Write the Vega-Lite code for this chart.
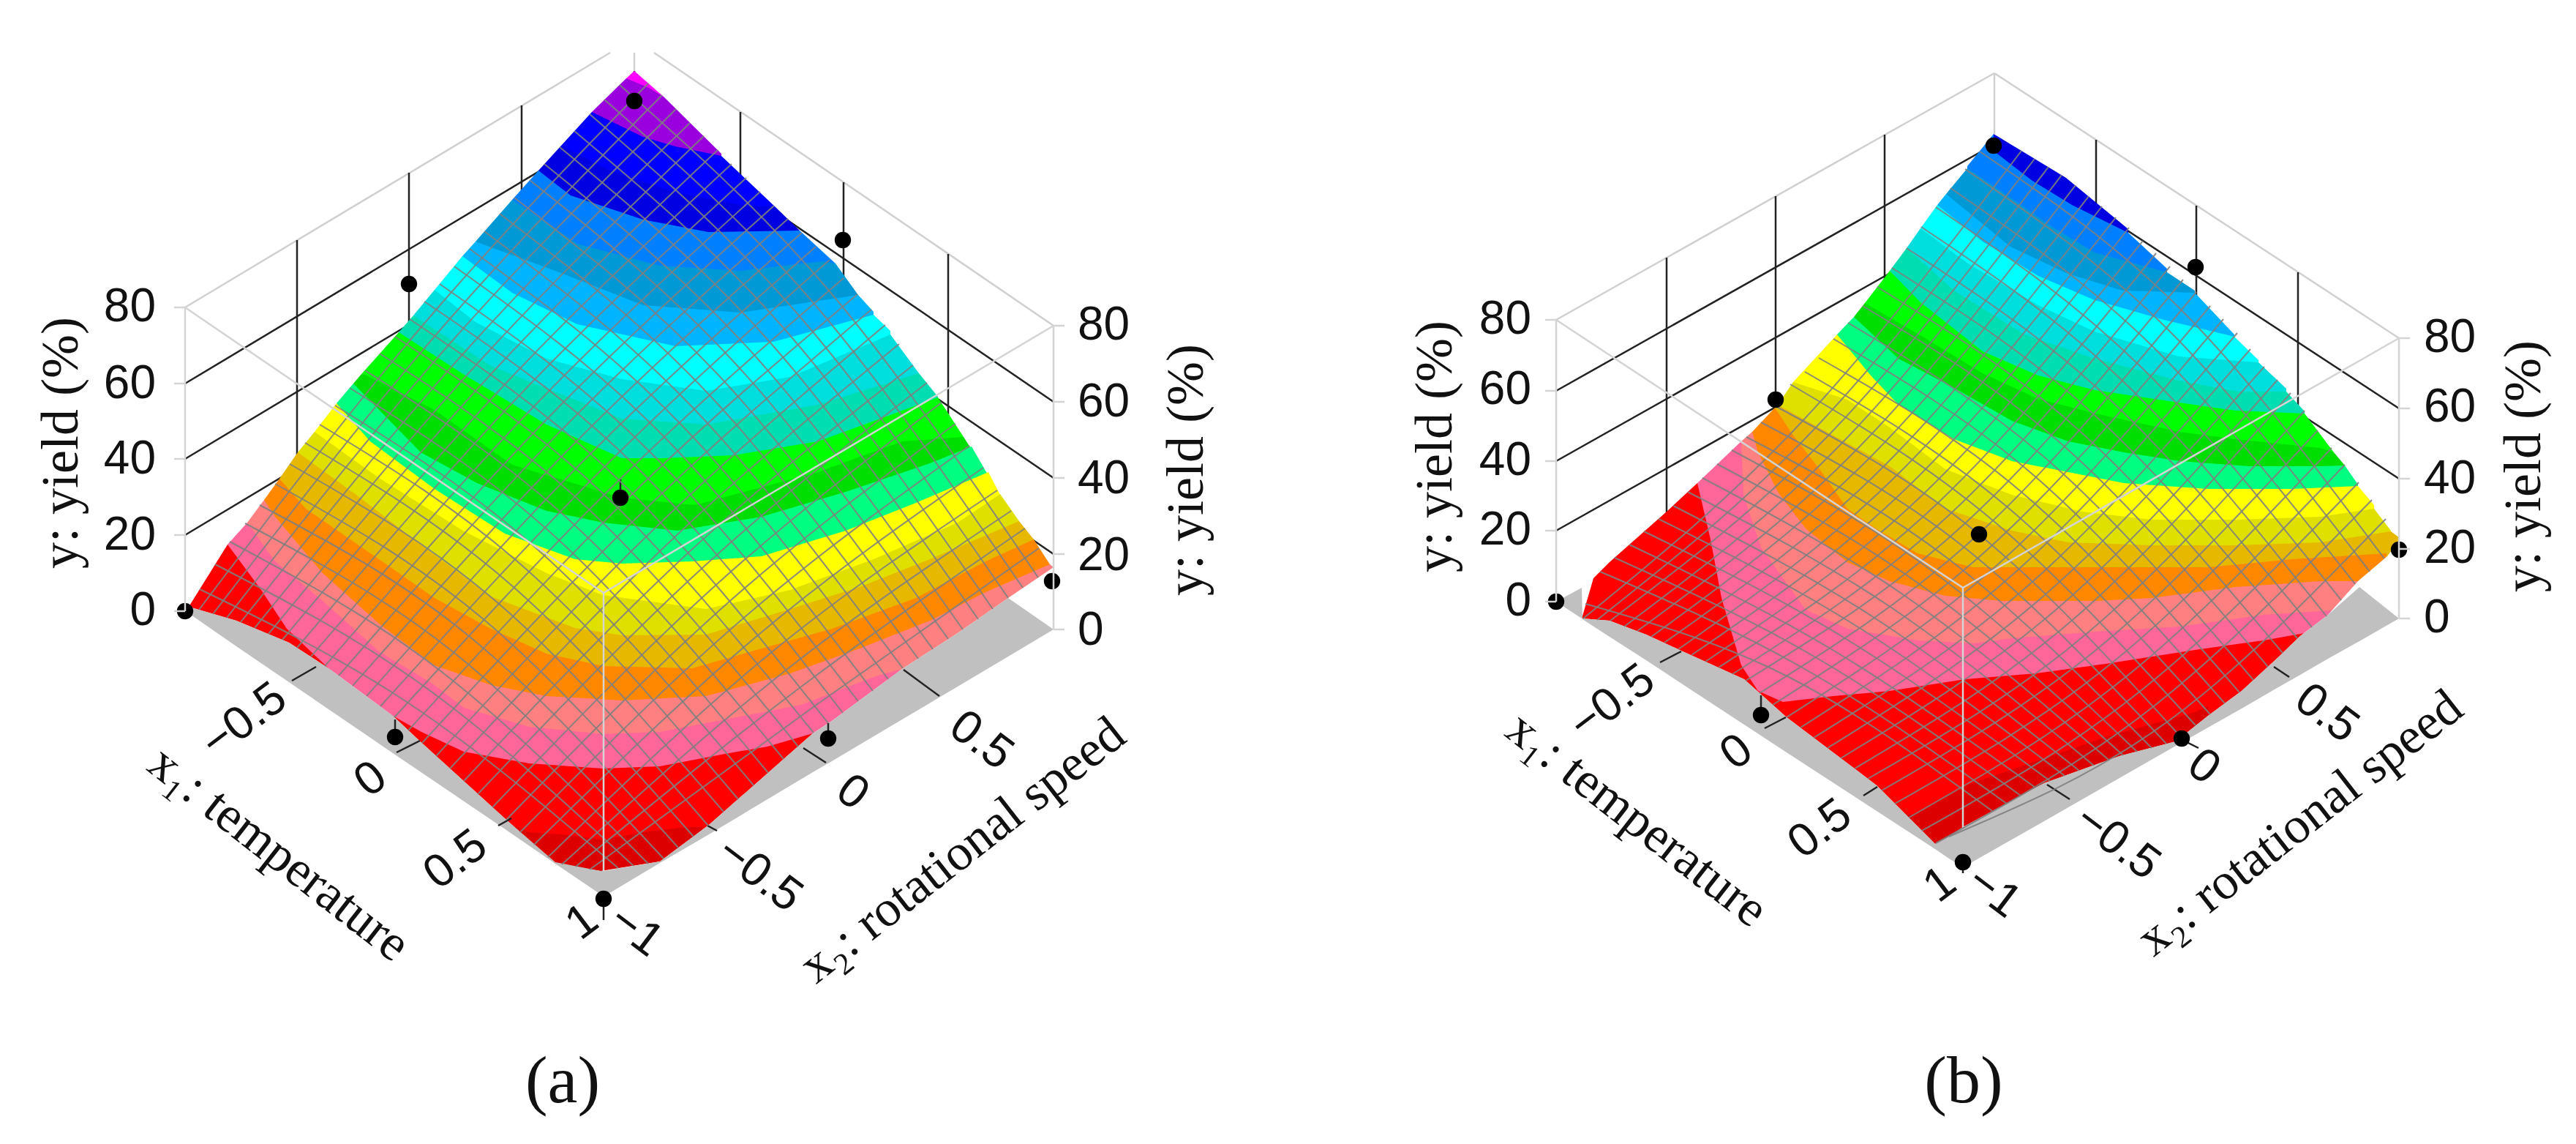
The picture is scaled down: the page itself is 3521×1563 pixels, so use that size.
{"$schema":"https://vega.github.io/schema/vega-lite/v6.json","description":"Two response surfaces of yield over temperature and rotational speed.","width":3521,"height":1563,"autosize":{"type":"fit","contains":"padding"},"padding":0,"background":"white","config":{"view":{"stroke":null}},
"datasets":{
"grid":[{"x":253,"y":731,"x2":867,"y2":363},{"x":253,"y":627,"x2":867,"y2":259},{"x":253,"y":524,"x2":867,"y2":156},{"x":1440,"y":757,"x2":867,"y2":366},{"x":1440,"y":653,"x2":867,"y2":262},{"x":1440,"y":549,"x2":867,"y2":158},{"x":406,"y":328,"x2":406,"y2":743},{"x":559,"y":236,"x2":559,"y2":650},{"x":713,"y":144,"x2":713,"y2":564},{"x":1012,"y":153,"x2":1012,"y2":568},{"x":1153,"y":249,"x2":1153,"y2":664},{"x":1296,"y":347,"x2":1296,"y2":762},{"x":867,"y":97,"x2":867,"y2":138},
{"x":2127,"y":725,"x2":2726,"y2":388},{"x":2127,"y":630,"x2":2726,"y2":293},{"x":2127,"y":534,"x2":2726,"y2":197},{"x":3279,"y":750,"x2":2726,"y2":388},{"x":3279,"y":654,"x2":2726,"y2":292},{"x":3279,"y":558,"x2":2726,"y2":196},{"x":2278,"y":352,"x2":2278,"y2":767},{"x":2427,"y":268,"x2":2427,"y2":653},{"x":2576,"y":184,"x2":2576,"y2":569},{"x":2865,"y":191,"x2":2865,"y2":576},{"x":3002,"y":281,"x2":3002,"y2":666},{"x":3141,"y":372,"x2":3141,"y2":757}],
"backbox":[{"x":253,"y":420,"x2":834,"y2":72},{"x":894,"y":72,"x2":1440,"y2":445},{"x":867,"y":72,"x2":867,"y2":97},{"x":2127,"y":437,"x2":2726,"y2":100},{"x":2726,"y":100,"x2":3279,"y2":462},{"x":2726,"y":100,"x2":2726,"y2":183}],
"bands":[
{"p":"a","l":1,"x":856,"y":107},{"p":"a","l":1,"x":867,"y":97},{"p":"a","l":1,"x":908,"y":133},
{"p":"a","l":2,"x":809,"y":153},{"p":"a","l":2,"x":856,"y":107},{"p":"a","l":2,"x":887,"y":120},{"p":"a","l":2,"x":908,"y":133},{"p":"a","l":2,"x":986,"y":210},
{"p":"a","l":3,"x":767,"y":199},{"p":"a","l":3,"x":809,"y":153},{"p":"a","l":3,"x":879,"y":187},{"p":"a","l":3,"x":923,"y":200},{"p":"a","l":3,"x":986,"y":213},{"p":"a","l":3,"x":1060,"y":283},
{"p":"a","l":4,"x":736,"y":233},{"p":"a","l":4,"x":767,"y":199},{"p":"a","l":4,"x":834,"y":233},{"p":"a","l":4,"x":923,"y":263},{"p":"a","l":4,"x":1012,"y":280},{"p":"a","l":4,"x":1060,"y":283},{"p":"a","l":4,"x":1093,"y":315},
{"p":"a","l":5,"x":700,"y":273},{"p":"a","l":5,"x":736,"y":233},{"p":"a","l":5,"x":780,"y":267},{"p":"a","l":5,"x":879,"y":300},{"p":"a","l":5,"x":968,"y":317},{"p":"a","l":5,"x":1093,"y":315},{"p":"a","l":5,"x":1142,"y":360},
{"p":"a","l":6,"x":650,"y":330},{"p":"a","l":6,"x":700,"y":273},{"p":"a","l":6,"x":789,"y":333},{"p":"a","l":6,"x":901,"y":363},{"p":"a","l":6,"x":1012,"y":370},{"p":"a","l":6,"x":1124,"y":357},{"p":"a","l":6,"x":1142,"y":360},{"p":"a","l":6,"x":1173,"y":403},
{"p":"a","l":7,"x":632,"y":350},{"p":"a","l":7,"x":650,"y":330},{"p":"a","l":7,"x":767,"y":373},{"p":"a","l":7,"x":879,"y":417},{"p":"a","l":7,"x":1012,"y":427},{"p":"a","l":7,"x":1146,"y":407},{"p":"a","l":7,"x":1173,"y":403},{"p":"a","l":7,"x":1194,"y":426},
{"p":"a","l":8,"x":594,"y":396},{"p":"a","l":8,"x":632,"y":350},{"p":"a","l":8,"x":700,"y":400},{"p":"a","l":8,"x":789,"y":443},{"p":"a","l":8,"x":923,"y":473},{"p":"a","l":8,"x":1057,"y":467},{"p":"a","l":8,"x":1194,"y":430},{"p":"a","l":8,"x":1217,"y":452},
{"p":"a","l":9,"x":565,"y":431},{"p":"a","l":9,"x":594,"y":396},{"p":"a","l":9,"x":650,"y":440},{"p":"a","l":9,"x":747,"y":490},{"p":"a","l":9,"x":850,"y":518},{"p":"a","l":9,"x":965,"y":534},{"p":"a","l":9,"x":1080,"y":515},{"p":"a","l":9,"x":1217,"y":457},{"p":"a","l":9,"x":1256,"y":510},
{"p":"a","l":10,"x":545,"y":454},{"p":"a","l":10,"x":565,"y":431},{"p":"a","l":10,"x":671,"y":500},{"p":"a","l":10,"x":850,"y":572},{"p":"a","l":10,"x":965,"y":580},{"p":"a","l":10,"x":1118,"y":553},{"p":"a","l":10,"x":1256,"y":510},{"p":"a","l":10,"x":1282,"y":542},
{"p":"a","l":11,"x":495,"y":510},{"p":"a","l":11,"x":545,"y":454},{"p":"a","l":11,"x":633,"y":511},{"p":"a","l":11,"x":747,"y":580},{"p":"a","l":11,"x":850,"y":626},{"p":"a","l":11,"x":907,"y":626},{"p":"a","l":11,"x":1003,"y":622},{"p":"a","l":11,"x":1118,"y":603},{"p":"a","l":11,"x":1214,"y":568},{"p":"a","l":11,"x":1282,"y":543},{"p":"a","l":11,"x":1317,"y":597},
{"p":"a","l":12,"x":483,"y":524},{"p":"a","l":12,"x":495,"y":510},{"p":"a","l":12,"x":594,"y":560},{"p":"a","l":12,"x":700,"y":635},{"p":"a","l":12,"x":850,"y":680},{"p":"a","l":12,"x":950,"y":690},{"p":"a","l":12,"x":1118,"y":645},{"p":"a","l":12,"x":1233,"y":603},{"p":"a","l":12,"x":1317,"y":597},{"p":"a","l":12,"x":1328,"y":614},
{"p":"a","l":13,"x":460,"y":551},{"p":"a","l":13,"x":483,"y":524},{"p":"a","l":13,"x":575,"y":618},{"p":"a","l":13,"x":652,"y":660},{"p":"a","l":13,"x":747,"y":698},{"p":"a","l":13,"x":824,"y":714},{"p":"a","l":13,"x":926,"y":725},{"p":"a","l":13,"x":1041,"y":706},{"p":"a","l":13,"x":1156,"y":672},{"p":"a","l":13,"x":1271,"y":633},{"p":"a","l":13,"x":1328,"y":610},{"p":"a","l":13,"x":1351,"y":650},
{"p":"a","l":14,"x":430,"y":590},{"p":"a","l":14,"x":460,"y":551},{"p":"a","l":14,"x":506,"y":603},{"p":"a","l":14,"x":594,"y":668},{"p":"a","l":14,"x":690,"y":729},{"p":"a","l":14,"x":786,"y":764},{"p":"a","l":14,"x":850,"y":770},{"p":"a","l":14,"x":946,"y":767},{"p":"a","l":14,"x":1041,"y":760},{"p":"a","l":14,"x":1156,"y":725},{"p":"a","l":14,"x":1252,"y":687},{"p":"a","l":14,"x":1351,"y":645},{"p":"a","l":14,"x":1367,"y":676},
{"p":"a","l":15,"x":407,"y":618},{"p":"a","l":15,"x":430,"y":590},{"p":"a","l":15,"x":518,"y":653},{"p":"a","l":15,"x":633,"y":725},{"p":"a","l":15,"x":747,"y":783},{"p":"a","l":15,"x":824,"y":813},{"p":"a","l":15,"x":965,"y":832},{"p":"a","l":15,"x":1080,"y":806},{"p":"a","l":15,"x":1194,"y":764},{"p":"a","l":15,"x":1309,"y":714},{"p":"a","l":15,"x":1367,"y":675},{"p":"a","l":15,"x":1393,"y":712},
{"p":"a","l":16,"x":382,"y":654},{"p":"a","l":16,"x":407,"y":618},{"p":"a","l":16,"x":487,"y":676},{"p":"a","l":16,"x":575,"y":744},{"p":"a","l":16,"x":671,"y":815},{"p":"a","l":16,"x":786,"y":858},{"p":"a","l":16,"x":850,"y":868},{"p":"a","l":16,"x":965,"y":867},{"p":"a","l":16,"x":1080,"y":832},{"p":"a","l":16,"x":1175,"y":802},{"p":"a","l":16,"x":1271,"y":764},{"p":"a","l":16,"x":1393,"y":712},{"p":"a","l":16,"x":1413,"y":737},
{"p":"a","l":17,"x":361,"y":683},{"p":"a","l":17,"x":382,"y":654},{"p":"a","l":17,"x":418,"y":695},{"p":"a","l":17,"x":518,"y":764},{"p":"a","l":17,"x":594,"y":817},{"p":"a","l":17,"x":671,"y":859},{"p":"a","l":17,"x":747,"y":893},{"p":"a","l":17,"x":825,"y":910},{"p":"a","l":17,"x":946,"y":913},{"p":"a","l":17,"x":1041,"y":886},{"p":"a","l":17,"x":1137,"y":859},{"p":"a","l":17,"x":1252,"y":817},{"p":"a","l":17,"x":1347,"y":767},{"p":"a","l":17,"x":1413,"y":737},{"p":"a","l":17,"x":1435,"y":771},
{"p":"a","l":18,"x":338,"y":714},{"p":"a","l":18,"x":361,"y":683},{"p":"a","l":18,"x":376,"y":706},{"p":"a","l":18,"x":441,"y":783},{"p":"a","l":18,"x":518,"y":852},{"p":"a","l":18,"x":594,"y":909},{"p":"a","l":18,"x":671,"y":936},{"p":"a","l":18,"x":747,"y":951},{"p":"a","l":18,"x":850,"y":957},{"p":"a","l":18,"x":965,"y":951},{"p":"a","l":18,"x":1080,"y":920},{"p":"a","l":18,"x":1175,"y":886},{"p":"a","l":18,"x":1271,"y":848},{"p":"a","l":18,"x":1347,"y":809},{"p":"a","l":18,"x":1435,"y":771},{"p":"a","l":18,"x":1440,"y":775},
{"p":"a","l":19,"x":311,"y":744},{"p":"a","l":19,"x":338,"y":714},{"p":"a","l":19,"x":376,"y":767},{"p":"a","l":19,"x":441,"y":821},{"p":"a","l":19,"x":518,"y":890},{"p":"a","l":19,"x":594,"y":936},{"p":"a","l":19,"x":634,"y":967},{"p":"a","l":19,"x":723,"y":993},{"p":"a","l":19,"x":824,"y":1003},{"p":"a","l":19,"x":902,"y":1000},{"p":"a","l":19,"x":991,"y":983},{"p":"a","l":19,"x":1095,"y":963},{"p":"a","l":19,"x":1194,"y":925},{"p":"a","l":19,"x":1229,"y":915},
{"p":"a","l":20,"x":253,"y":835},{"p":"a","l":20,"x":258,"y":829},{"p":"a","l":20,"x":311,"y":744},{"p":"a","l":20,"x":323,"y":760},{"p":"a","l":20,"x":357,"y":806},{"p":"a","l":20,"x":392,"y":859},{"p":"a","l":20,"x":449,"y":913},{"p":"a","l":20,"x":483,"y":940},{"p":"a","l":20,"x":537,"y":978},{"p":"a","l":20,"x":576,"y":1000},{"p":"a","l":20,"x":634,"y":1027},{"p":"a","l":20,"x":723,"y":1043},{"p":"a","l":20,"x":824,"y":1050},{"p":"a","l":20,"x":902,"y":1047},{"p":"a","l":20,"x":991,"y":1030},{"p":"a","l":20,"x":1049,"y":1020},{"p":"a","l":20,"x":1111,"y":1002},
{"p":"a","l":21,"x":700,"y":1127},{"p":"a","l":21,"x":723,"y":1137},{"p":"a","l":21,"x":768,"y":1140},{"p":"a","l":21,"x":824,"y":1147},{"p":"a","l":21,"x":879,"y":1137},{"p":"a","l":21,"x":937,"y":1130},{"p":"a","l":21,"x":960,"y":1130},
{"p":"b","l":4,"x":2725,"y":183},{"p":"b","l":4,"x":2824,"y":243},{"p":"b","l":4,"x":2909,"y":313},
{"p":"b","l":5,"x":2689,"y":227},{"p":"b","l":5,"x":2725,"y":183},{"p":"b","l":5,"x":2726,"y":207},{"p":"b","l":5,"x":2778,"y":247},{"p":"b","l":5,"x":2832,"y":280},{"p":"b","l":5,"x":2909,"y":318},{"p":"b","l":5,"x":2962,"y":367},
{"p":"b","l":6,"x":2660,"y":265},{"p":"b","l":6,"x":2689,"y":230},{"p":"b","l":6,"x":2748,"y":270},{"p":"b","l":6,"x":2805,"y":310},{"p":"b","l":6,"x":2863,"y":345},{"p":"b","l":6,"x":2962,"y":372},{"p":"b","l":6,"x":3000,"y":397},
{"p":"b","l":7,"x":2648,"y":280},{"p":"b","l":7,"x":2660,"y":265},{"p":"b","l":7,"x":2748,"y":337},{"p":"b","l":7,"x":2824,"y":373},{"p":"b","l":7,"x":2901,"y":397},{"p":"b","l":7,"x":3000,"y":400},{"p":"b","l":7,"x":3054,"y":457},
{"p":"b","l":8,"x":2625,"y":312},{"p":"b","l":8,"x":2648,"y":280},{"p":"b","l":8,"x":2710,"y":330},{"p":"b","l":8,"x":2786,"y":377},{"p":"b","l":8,"x":2863,"y":410},{"p":"b","l":8,"x":2958,"y":437},{"p":"b","l":8,"x":3054,"y":460},{"p":"b","l":8,"x":3087,"y":492},
{"p":"b","l":9,"x":2606,"y":339},{"p":"b","l":9,"x":2625,"y":312},{"p":"b","l":9,"x":2690,"y":360},{"p":"b","l":9,"x":2786,"y":417},{"p":"b","l":9,"x":2863,"y":453},{"p":"b","l":9,"x":2978,"y":487},{"p":"b","l":9,"x":3087,"y":495},{"p":"b","l":9,"x":3125,"y":531},
{"p":"b","l":10,"x":2583,"y":370},{"p":"b","l":10,"x":2606,"y":339},{"p":"b","l":10,"x":2671,"y":397},{"p":"b","l":10,"x":2767,"y":457},{"p":"b","l":10,"x":2863,"y":490},{"p":"b","l":10,"x":2978,"y":520},{"p":"b","l":10,"x":3060,"y":535},{"p":"b","l":10,"x":3125,"y":535},{"p":"b","l":10,"x":3150,"y":562},
{"p":"b","l":11,"x":2549,"y":414},{"p":"b","l":11,"x":2583,"y":370},{"p":"b","l":11,"x":2625,"y":413},{"p":"b","l":11,"x":2710,"y":480},{"p":"b","l":11,"x":2786,"y":513},{"p":"b","l":11,"x":2863,"y":533},{"p":"b","l":11,"x":2958,"y":547},{"p":"b","l":11,"x":3056,"y":561},{"p":"b","l":11,"x":3150,"y":565},{"p":"b","l":11,"x":3190,"y":618},
{"p":"b","l":12,"x":2534,"y":433},{"p":"b","l":12,"x":2549,"y":414},{"p":"b","l":12,"x":2633,"y":463},{"p":"b","l":12,"x":2710,"y":510},{"p":"b","l":12,"x":2786,"y":545},{"p":"b","l":12,"x":2865,"y":565},{"p":"b","l":12,"x":2979,"y":590},{"p":"b","l":12,"x":3056,"y":600},{"p":"b","l":12,"x":3171,"y":612},{"p":"b","l":12,"x":3190,"y":618},{"p":"b","l":12,"x":3205,"y":636},
{"p":"b","l":13,"x":2511,"y":457},{"p":"b","l":13,"x":2534,"y":433},{"p":"b","l":13,"x":2595,"y":490},{"p":"b","l":13,"x":2671,"y":530},{"p":"b","l":13,"x":2750,"y":575},{"p":"b","l":13,"x":2827,"y":603},{"p":"b","l":13,"x":2903,"y":618},{"p":"b","l":13,"x":2980,"y":630},{"p":"b","l":13,"x":3075,"y":637},{"p":"b","l":13,"x":3171,"y":637},{"p":"b","l":13,"x":3205,"y":636},{"p":"b","l":13,"x":3223,"y":662},
{"p":"b","l":14,"x":2451,"y":522},{"p":"b","l":14,"x":2511,"y":457},{"p":"b","l":14,"x":2557,"y":513},{"p":"b","l":14,"x":2595,"y":553},{"p":"b","l":14,"x":2671,"y":600},{"p":"b","l":14,"x":2750,"y":630},{"p":"b","l":14,"x":2827,"y":645},{"p":"b","l":14,"x":2903,"y":660},{"p":"b","l":14,"x":3018,"y":668},{"p":"b","l":14,"x":3133,"y":668},{"p":"b","l":14,"x":3223,"y":664},{"p":"b","l":14,"x":3245,"y":690},
{"p":"b","l":15,"x":2430,"y":553},{"p":"b","l":15,"x":2451,"y":522},{"p":"b","l":15,"x":2525,"y":546},{"p":"b","l":15,"x":2583,"y":584},{"p":"b","l":15,"x":2659,"y":641},{"p":"b","l":15,"x":2750,"y":676},{"p":"b","l":15,"x":2846,"y":699},{"p":"b","l":15,"x":2941,"y":710},{"p":"b","l":15,"x":3056,"y":710},{"p":"b","l":15,"x":3171,"y":706},{"p":"b","l":15,"x":3245,"y":695},{"p":"b","l":15,"x":3268,"y":725},
{"p":"b","l":16,"x":2426,"y":557},{"p":"b","l":16,"x":2430,"y":553},{"p":"b","l":16,"x":2506,"y":595},{"p":"b","l":16,"x":2583,"y":637},{"p":"b","l":16,"x":2659,"y":695},{"p":"b","l":16,"x":2750,"y":725},{"p":"b","l":16,"x":2827,"y":741},{"p":"b","l":16,"x":2941,"y":745},{"p":"b","l":16,"x":3056,"y":745},{"p":"b","l":16,"x":3171,"y":741},{"p":"b","l":16,"x":3268,"y":726},{"p":"b","l":16,"x":3280,"y":735},
{"p":"b","l":17,"x":2395,"y":590},{"p":"b","l":17,"x":2426,"y":557},{"p":"b","l":17,"x":2449,"y":592},{"p":"b","l":17,"x":2487,"y":641},{"p":"b","l":17,"x":2525,"y":695},{"p":"b","l":17,"x":2564,"y":722},{"p":"b","l":17,"x":2621,"y":756},{"p":"b","l":17,"x":2697,"y":775},{"p":"b","l":17,"x":2865,"y":775},{"p":"b","l":17,"x":3018,"y":775},{"p":"b","l":17,"x":3133,"y":764},{"p":"b","l":17,"x":3262,"y":756},
{"p":"b","l":18,"x":2380,"y":603},{"p":"b","l":18,"x":2395,"y":590},{"p":"b","l":18,"x":2403,"y":618},{"p":"b","l":18,"x":2430,"y":672},{"p":"b","l":18,"x":2468,"y":722},{"p":"b","l":18,"x":2525,"y":768},{"p":"b","l":18,"x":2583,"y":794},{"p":"b","l":18,"x":2659,"y":814},{"p":"b","l":18,"x":2736,"y":821},{"p":"b","l":18,"x":2865,"y":821},{"p":"b","l":18,"x":2941,"y":817},{"p":"b","l":18,"x":3056,"y":802},{"p":"b","l":18,"x":3171,"y":794},{"p":"b","l":18,"x":3228,"y":794},
{"p":"b","l":19,"x":2320,"y":660},{"p":"b","l":19,"x":2380,"y":603},{"p":"b","l":19,"x":2383,"y":676},{"p":"b","l":19,"x":2407,"y":748},{"p":"b","l":19,"x":2468,"y":833},{"p":"b","l":19,"x":2525,"y":859},{"p":"b","l":19,"x":2621,"y":875},{"p":"b","l":19,"x":2697,"y":879},{"p":"b","l":19,"x":2750,"y":872},{"p":"b","l":19,"x":2865,"y":863},{"p":"b","l":19,"x":2980,"y":856},{"p":"b","l":19,"x":3094,"y":840},{"p":"b","l":19,"x":3186,"y":834},
{"p":"b","l":20,"x":2162,"y":845},{"p":"b","l":20,"x":2178,"y":790},{"p":"b","l":20,"x":2200,"y":768},{"p":"b","l":20,"x":2278,"y":699},{"p":"b","l":20,"x":2320,"y":660},{"p":"b","l":20,"x":2338,"y":737},{"p":"b","l":20,"x":2353,"y":817},{"p":"b","l":20,"x":2380,"y":909},{"p":"b","l":20,"x":2403,"y":944},{"p":"b","l":20,"x":2437,"y":959},{"p":"b","l":20,"x":2506,"y":951},{"p":"b","l":20,"x":2583,"y":944},{"p":"b","l":20,"x":2686,"y":928},{"p":"b","l":20,"x":2783,"y":920},{"p":"b","l":20,"x":2878,"y":907},{"p":"b","l":20,"x":3000,"y":888},{"p":"b","l":20,"x":3094,"y":875},{"p":"b","l":20,"x":3150,"y":865},
{"p":"b","l":21,"x":2600,"y":1110},{"p":"b","l":21,"x":2614,"y":1113},{"p":"b","l":21,"x":2687,"y":1073},{"p":"b","l":21,"x":2783,"y":1040},{"p":"b","l":21,"x":2878,"y":1007},{"p":"b","l":21,"x":3000,"y":973},{"p":"b","l":21,"x":3018,"y":965}],
"under":[{"p":"a","x":253,"y":835},{"p":"a","x":258,"y":829},{"p":"a","x":323,"y":848},{"p":"a","x":395,"y":878},{"p":"a","x":449,"y":913},{"p":"a","x":537,"y":978},{"p":"a","x":571,"y":1010},{"p":"a","x":692,"y":1120},{"p":"a","x":759,"y":1180},{"p":"a","x":821,"y":1190},{"p":"a","x":902,"y":1177},{"p":"a","x":969,"y":1127},{"p":"a","x":1111,"y":1002},{"p":"a","x":1137,"y":985},{"p":"a","x":1233,"y":914},{"p":"a","x":1309,"y":865},{"p":"a","x":1378,"y":817},{"p":"a","x":1440,"y":775},
{"p":"b","x":2162,"y":845},{"p":"b","x":2200,"y":848},{"p":"b","x":2250,"y":867},{"p":"b","x":2300,"y":890},{"p":"b","x":2384,"y":928},{"p":"b","x":2442,"y":980},{"p":"b","x":2565,"y":1073},{"p":"b","x":2645,"y":1153},{"p":"b","x":2664,"y":1143},{"p":"b","x":2683,"y":1130},{"p":"b","x":2794,"y":1070},{"p":"b","x":2897,"y":1033},{"p":"b","x":2974,"y":1013},{"p":"b","x":3018,"y":978},{"p":"b","x":3064,"y":944},{"p":"b","x":3114,"y":898},{"p":"b","x":3144,"y":869},{"p":"b","x":3182,"y":840},{"p":"b","x":3223,"y":794},{"p":"b","x":3263,"y":760},{"p":"b","x":3280,"y":737}],
"floor":[{"p":"a","x":253,"y":835,"y2":835},{"p":"a","x":258,"y":829,"y2":838},{"p":"a","x":323,"y":848,"y2":883},{"p":"a","x":395,"y":878,"y2":932},{"p":"a","x":449,"y":913,"y2":969},{"p":"a","x":537,"y":978,"y2":1029},{"p":"a","x":571,"y":1010,"y2":1052},{"p":"a","x":692,"y":1120,"y2":1134},{"p":"a","x":759,"y":1178,"y2":1180},{"p":"a","x":821,"y":1190,"y2":1222},{"p":"a","x":825,"y":1190,"y2":1225},{"p":"a","x":902,"y":1177,"y2":1179},{"p":"a","x":969,"y":1127,"y2":1140},{"p":"a","x":1111,"y":1002,"y2":1055},{"p":"a","x":1137,"y":985,"y2":1040},{"p":"a","x":1233,"y":914,"y2":983},{"p":"a","x":1309,"y":865,"y2":938},{"p":"a","x":1378,"y":817,"y2":897},{"p":"a","x":1440,"y":860,"y2":860},
{"p":"b","x":2127,"y":822,"y2":822},{"p":"b","x":2162,"y":803,"y2":845},{"p":"b","x":2163,"y":845,"y2":846},{"p":"b","x":2200,"y":848,"y2":870},{"p":"b","x":2250,"y":867,"y2":902},{"p":"b","x":2300,"y":890,"y2":935},{"p":"b","x":2384,"y":928,"y2":990},{"p":"b","x":2442,"y":980,"y2":1028},{"p":"b","x":2565,"y":1073,"y2":1108},{"p":"b","x":2645,"y":1153,"y2":1160},{"p":"b","x":2664,"y":1143,"y2":1173},{"p":"b","x":2683,"y":1130,"y2":1185},{"p":"b","x":2794,"y":1070,"y2":1122},{"p":"b","x":2897,"y":1033,"y2":1063},{"p":"b","x":2974,"y":1013,"y2":1019},{"p":"b","x":3018,"y":978,"y2":994},{"p":"b","x":3064,"y":944,"y2":968},{"p":"b","x":3114,"y":898,"y2":939},{"p":"b","x":3144,"y":869,"y2":922},{"p":"b","x":3182,"y":840,"y2":900},{"p":"b","x":3225,"y":802,"y2":876},{"p":"b","x":3279,"y":845,"y2":845}],
"ticks":[{"x":399,"y":930,"x2":432,"y2":911},{"x":542,"y":1028,"x2":574,"y2":1012},{"x":681,"y":1128,"x2":699,"y2":1118},{"x":967,"y":1128,"x2":980,"y2":1135},{"x":1098,"y":1022,"x2":1129,"y2":1042},{"x":1235,"y":915,"x2":1284,"y2":951},{"x":825,"y":1225,"x2":825,"y2":1257},{"x":540,"y":983,"x2":540,"y2":1005},{"x":1132,"y":988,"x2":1132,"y2":1007},{"x":848,"y":655,"x2":848,"y2":680},
{"x":2269,"y":905,"x2":2298,"y2":890},{"x":2412,"y":995,"x2":2441,"y2":980},{"x":2547,"y":1087,"x2":2566,"y2":1075},{"x":2798,"y":1072,"x2":2829,"y2":1092},{"x":2985,"y":1012,"x2":3005,"y2":1022},{"x":3108,"y":911,"x2":3129,"y2":925},{"x":2683,"y":1178,"x2":2683,"y2":1193},{"x":2407,"y":950,"x2":2407,"y2":977}],
"mesh":[
{"m":101,"x":273,"y":805},{"m":101,"x":559,"y":961},{"m":101,"x":845,"y":1186},{"m":102,"x":294,"y":771},{"m":102,"x":580,"y":938},{"m":102,"x":866,"y":1183},{"m":103,"x":314,"y":740},{"m":103,"x":600,"y":915},{"m":103,"x":886,"y":1180},{"m":104,"x":335,"y":715},{"m":104,"x":621,"y":892},{"m":104,"x":907,"y":1173},{"m":105,"x":355,"y":690},{"m":105,"x":641,"y":869},{"m":105,"x":927,"y":1158},{"m":106,"x":376,"y":661},{"m":106,"x":662,"y":847},{"m":106,"x":948,"y":1143},{"m":107,"x":396,"y":634},{"m":107,"x":682,"y":825},{"m":107,"x":968,"y":1128},{"m":108,"x":417,"y":605},{"m":108,"x":703,"y":803},{"m":108,"x":989,"y":1109},{"m":109,"x":437,"y":580},{"m":109,"x":723,"y":781},{"m":109,"x":1009,"y":1092},{"m":110,"x":458,"y":554},{"m":110,"x":744,"y":759},{"m":110,"x":1030,"y":1073},{"m":111,"x":478,"y":530},{"m":111,"x":764,"y":738},{"m":111,"x":1050,"y":1056},{"m":112,"x":499,"y":506},{"m":112,"x":785,"y":717},{"m":112,"x":1071,"y":1037},{"m":113,"x":519,"y":483},{"m":113,"x":805,"y":696},{"m":113,"x":1091,"y":1020},{"m":114,"x":540,"y":460},{"m":114,"x":826,"y":676},{"m":114,"x":1112,"y":1001},{"m":115,"x":560,"y":436},{"m":115,"x":846,"y":656},{"m":115,"x":1132,"y":988},{"m":116,"x":580,"y":412},{"m":116,"x":867,"y":635},{"m":116,"x":1152,"y":974},{"m":117,"x":601,"y":388},{"m":117,"x":887,"y":616},{"m":117,"x":1173,"y":958},{"m":118,"x":621,"y":364},{"m":118,"x":907,"y":596},{"m":118,"x":1193,"y":944},{"m":119,"x":642,"y":340},{"m":119,"x":928,"y":577},{"m":119,"x":1214,"y":928},{"m":120,"x":662,"y":316},{"m":120,"x":948,"y":558},{"m":120,"x":1234,"y":913},{"m":121,"x":683,"y":292},{"m":121,"x":969,"y":539},{"m":121,"x":1255,"y":900},{"m":122,"x":703,"y":270},{"m":122,"x":989,"y":520},{"m":122,"x":1275,"y":887},{"m":123,"x":724,"y":246},{"m":123,"x":1010,"y":502},{"m":123,"x":1296,"y":873},{"m":124,"x":744,"y":224},{"m":124,"x":1030,"y":484},{"m":124,"x":1316,"y":860},{"m":125,"x":765,"y":201},{"m":125,"x":1051,"y":466},{"m":125,"x":1337,"y":846},{"m":126,"x":785,"y":179},{"m":126,"x":1071,"y":448},{"m":126,"x":1357,"y":832},{"m":127,"x":806,"y":156},{"m":127,"x":1092,"y":431},{"m":127,"x":1378,"y":817},{"m":128,"x":826,"y":136},{"m":128,"x":1112,"y":414},{"m":128,"x":1398,"y":803},{"m":129,"x":847,"y":116},{"m":129,"x":1133,"y":397},{"m":129,"x":1419,"y":789},
{"m":201,"x":272,"y":833},{"m":201,"x":579,"y":443},{"m":201,"x":886,"y":114},{"m":202,"x":291,"y":839},{"m":202,"x":598,"y":455},{"m":202,"x":905,"y":130},{"m":203,"x":310,"y":844},{"m":203,"x":617,"y":467},{"m":203,"x":924,"y":149},{"m":204,"x":329,"y":850},{"m":204,"x":636,"y":480},{"m":204,"x":943,"y":168},{"m":205,"x":348,"y":858},{"m":205,"x":655,"y":494},{"m":205,"x":962,"y":186},{"m":206,"x":367,"y":866},{"m":206,"x":674,"y":508},{"m":206,"x":981,"y":205},{"m":207,"x":386,"y":874},{"m":207,"x":693,"y":522},{"m":207,"x":1000,"y":224},{"m":208,"x":406,"y":885},{"m":208,"x":713,"y":537},{"m":208,"x":1020,"y":243},{"m":209,"x":425,"y":897},{"m":209,"x":732,"y":553},{"m":209,"x":1039,"y":262},{"m":210,"x":444,"y":910},{"m":210,"x":751,"y":569},{"m":210,"x":1058,"y":281},{"m":211,"x":463,"y":923},{"m":211,"x":770,"y":585},{"m":211,"x":1077,"y":299},{"m":212,"x":482,"y":937},{"m":212,"x":789,"y":602},{"m":212,"x":1096,"y":318},{"m":213,"x":501,"y":951},{"m":213,"x":808,"y":619},{"m":213,"x":1115,"y":337},{"m":214,"x":520,"y":965},{"m":214,"x":827,"y":637},{"m":214,"x":1134,"y":355},{"m":215,"x":539,"y":980},{"m":215,"x":846,"y":656},{"m":215,"x":1153,"y":380},{"m":216,"x":558,"y":998},{"m":216,"x":865,"y":674},{"m":216,"x":1172,"y":402},{"m":217,"x":577,"y":1015},{"m":217,"x":884,"y":694},{"m":217,"x":1191,"y":423},{"m":218,"x":596,"y":1033},{"m":218,"x":903,"y":714},{"m":218,"x":1210,"y":444},{"m":219,"x":615,"y":1050},{"m":219,"x":922,"y":734},{"m":219,"x":1229,"y":470},{"m":220,"x":634,"y":1067},{"m":220,"x":941,"y":755},{"m":220,"x":1248,"y":499},{"m":221,"x":653,"y":1085},{"m":221,"x":960,"y":776},{"m":221,"x":1267,"y":523},{"m":222,"x":673,"y":1103},{"m":222,"x":980,"y":798},{"m":222,"x":1287,"y":550},{"m":223,"x":692,"y":1120},{"m":223,"x":999,"y":820},{"m":223,"x":1306,"y":579},{"m":224,"x":711,"y":1137},{"m":224,"x":1018,"y":843},{"m":224,"x":1325,"y":609},{"m":225,"x":730,"y":1154},{"m":225,"x":1037,"y":867},{"m":225,"x":1344,"y":639},{"m":226,"x":749,"y":1171},{"m":226,"x":1056,"y":890},{"m":226,"x":1363,"y":670},{"m":227,"x":768,"y":1181},{"m":227,"x":1075,"y":915},{"m":227,"x":1382,"y":698},{"m":228,"x":787,"y":1184},{"m":228,"x":1094,"y":939},{"m":228,"x":1401,"y":722},{"m":229,"x":806,"y":1188},{"m":229,"x":1113,"y":965},{"m":229,"x":1420,"y":749},
{"m":302,"x":2167,"y":825},{"m":302,"x":2445,"y":925},{"m":302,"x":2723,"y":1108},{"m":303,"x":2187,"y":781},{"m":303,"x":2465,"y":913},{"m":303,"x":2743,"y":1098},{"m":304,"x":2207,"y":762},{"m":304,"x":2485,"y":900},{"m":304,"x":2762,"y":1087},{"m":305,"x":2227,"y":744},{"m":305,"x":2505,"y":888},{"m":305,"x":2782,"y":1076},{"m":306,"x":2247,"y":726},{"m":306,"x":2525,"y":874},{"m":306,"x":2802,"y":1067},{"m":307,"x":2267,"y":709},{"m":307,"x":2545,"y":860},{"m":307,"x":2822,"y":1060},{"m":308,"x":2287,"y":691},{"m":308,"x":2565,"y":846},{"m":308,"x":2842,"y":1053},{"m":309,"x":2307,"y":672},{"m":309,"x":2585,"y":830},{"m":309,"x":2862,"y":1046},{"m":310,"x":2327,"y":653},{"m":310,"x":2605,"y":815},{"m":310,"x":2882,"y":1038},{"m":311,"x":2347,"y":634},{"m":311,"x":2625,"y":799},{"m":311,"x":2902,"y":1032},{"m":312,"x":2367,"y":615},{"m":312,"x":2645,"y":783},{"m":312,"x":2921,"y":1027},{"m":313,"x":2387,"y":597},{"m":313,"x":2665,"y":765},{"m":313,"x":2941,"y":1022},{"m":314,"x":2407,"y":577},{"m":314,"x":2685,"y":748},{"m":314,"x":2961,"y":1016},{"m":315,"x":2427,"y":555},{"m":315,"x":2705,"y":730},{"m":315,"x":2981,"y":1007},{"m":316,"x":2447,"y":525},{"m":316,"x":2725,"y":712},{"m":316,"x":3001,"y":991},{"m":317,"x":2467,"y":508},{"m":317,"x":2744,"y":693},{"m":317,"x":3021,"y":976},{"m":318,"x":2486,"y":489},{"m":318,"x":2764,"y":673},{"m":318,"x":3041,"y":961},{"m":319,"x":2506,"y":463},{"m":319,"x":2784,"y":653},{"m":319,"x":3061,"y":946},{"m":320,"x":2526,"y":441},{"m":320,"x":2804,"y":633},{"m":320,"x":3080,"y":929},{"m":321,"x":2546,"y":418},{"m":321,"x":2824,"y":612},{"m":321,"x":3100,"y":911},{"m":322,"x":2566,"y":392},{"m":322,"x":2844,"y":590},{"m":322,"x":3120,"y":892},{"m":323,"x":2586,"y":366},{"m":323,"x":2864,"y":568},{"m":323,"x":3140,"y":872},{"m":324,"x":2606,"y":339},{"m":324,"x":2884,"y":546},{"m":324,"x":3160,"y":857},{"m":325,"x":2626,"y":310},{"m":325,"x":2904,"y":523},{"m":325,"x":3180,"y":842},{"m":326,"x":2646,"y":283},{"m":326,"x":2924,"y":499},{"m":326,"x":3200,"y":820},{"m":327,"x":2666,"y":257},{"m":327,"x":2944,"y":475},{"m":327,"x":3219,"y":798},{"m":328,"x":2686,"y":231},{"m":328,"x":2964,"y":451},{"m":328,"x":3239,"y":781},{"m":329,"x":2706,"y":207},{"m":329,"x":2984,"y":426},{"m":329,"x":3259,"y":763},
{"m":402,"x":2164,"y":845},{"m":402,"x":2464,"y":575},{"m":402,"x":2763,"y":206},{"m":403,"x":2183,"y":847},{"m":403,"x":2482,"y":584},{"m":403,"x":2781,"y":217},{"m":404,"x":2201,"y":848},{"m":404,"x":2501,"y":593},{"m":404,"x":2800,"y":228},{"m":405,"x":2220,"y":856},{"m":405,"x":2519,"y":604},{"m":405,"x":2818,"y":239},{"m":406,"x":2238,"y":862},{"m":406,"x":2538,"y":614},{"m":406,"x":2837,"y":253},{"m":407,"x":2257,"y":870},{"m":407,"x":2556,"y":625},{"m":407,"x":2855,"y":268},{"m":408,"x":2275,"y":878},{"m":408,"x":2575,"y":637},{"m":408,"x":2873,"y":282},{"m":409,"x":2294,"y":887},{"m":409,"x":2593,"y":649},{"m":409,"x":2892,"y":297},{"m":410,"x":2312,"y":895},{"m":410,"x":2612,"y":661},{"m":410,"x":2910,"y":311},{"m":411,"x":2331,"y":904},{"m":411,"x":2630,"y":674},{"m":411,"x":2929,"y":329},{"m":412,"x":2349,"y":912},{"m":412,"x":2649,"y":687},{"m":412,"x":2947,"y":346},{"m":413,"x":2368,"y":921},{"m":413,"x":2667,"y":701},{"m":413,"x":2966,"y":364},{"m":414,"x":2386,"y":930},{"m":414,"x":2686,"y":715},{"m":414,"x":2984,"y":382},{"m":415,"x":2405,"y":947},{"m":415,"x":2704,"y":730},{"m":415,"x":3002,"y":399},{"m":416,"x":2423,"y":963},{"m":416,"x":2723,"y":745},{"m":416,"x":3021,"y":418},{"m":417,"x":2442,"y":980},{"m":417,"x":2742,"y":761},{"m":417,"x":3039,"y":436},{"m":418,"x":2461,"y":994},{"m":418,"x":2760,"y":777},{"m":418,"x":3058,"y":455},{"m":419,"x":2479,"y":1008},{"m":419,"x":2779,"y":794},{"m":419,"x":3076,"y":477},{"m":420,"x":2498,"y":1022},{"m":420,"x":2797,"y":811},{"m":420,"x":3095,"y":501},{"m":421,"x":2516,"y":1036},{"m":421,"x":2816,"y":828},{"m":421,"x":3113,"y":519},{"m":422,"x":2535,"y":1050},{"m":422,"x":2834,"y":846},{"m":422,"x":3131,"y":537},{"m":423,"x":2553,"y":1064},{"m":423,"x":2853,"y":865},{"m":423,"x":3150,"y":561},{"m":424,"x":2572,"y":1080},{"m":424,"x":2871,"y":883},{"m":424,"x":3168,"y":588},{"m":425,"x":2590,"y":1098},{"m":425,"x":2890,"y":903},{"m":425,"x":3187,"y":612},{"m":426,"x":2609,"y":1117},{"m":426,"x":2908,"y":923},{"m":426,"x":3205,"y":635},{"m":427,"x":2627,"y":1135},{"m":427,"x":2927,"y":943},{"m":427,"x":3224,"y":659},{"m":428,"x":2646,"y":1152},{"m":428,"x":2945,"y":964},{"m":428,"x":3242,"y":683},{"m":429,"x":2664,"y":1143},{"m":429,"x":2964,"y":985},{"m":429,"x":3261,"y":709}],
"dots":[{"x":867,"y":138},{"x":1152,"y":328},{"x":559,"y":388},{"x":848,"y":680},{"x":540,"y":1007},{"x":1132,"y":1009},{"x":253,"y":835},{"x":825,"y":1228},{"x":1438,"y":794},
{"x":2725,"y":199},{"x":3001,"y":365},{"x":2427,"y":546},{"x":2705,"y":730},{"x":2407,"y":977},{"x":2982,"y":1009},{"x":2127,"y":822},{"x":2683,"y":1178},{"x":3279,"y":751}],
"front":[{"x":253,"y":420,"x2":253,"y2":835},{"x":1440,"y":445,"x2":1440,"y2":860},{"x":253,"y":420,"x2":825,"y2":810},{"x":1440,"y":445,"x2":825,"y2":810},{"x":825,"y":810,"x2":825,"y2":1190},{"x":238,"y":420,"x2":253,"y2":420},{"x":238,"y":524,"x2":253,"y2":524},{"x":238,"y":627,"x2":253,"y2":627},{"x":238,"y":731,"x2":253,"y2":731},{"x":238,"y":835,"x2":253,"y2":835},{"x":1440,"y":445,"x2":1455,"y2":445},{"x":1440,"y":549,"x2":1455,"y2":549},{"x":1440,"y":653,"x2":1455,"y2":653},{"x":1440,"y":757,"x2":1455,"y2":757},{"x":1440,"y":860,"x2":1455,"y2":860},
{"x":2127,"y":437,"x2":2127,"y2":822},{"x":3279,"y":462,"x2":3279,"y2":845},{"x":2127,"y":437,"x2":2683,"y2":803},{"x":3279,"y":462,"x2":2683,"y2":803},{"x":2683,"y":803,"x2":2683,"y2":1130},{"x":2112,"y":437,"x2":2127,"y2":437},{"x":2112,"y":534,"x2":2127,"y2":534},{"x":2112,"y":630,"x2":2127,"y2":630},{"x":2112,"y":725,"x2":2127,"y2":725},{"x":2112,"y":822,"x2":2127,"y2":822},{"x":3279,"y":462,"x2":3294,"y2":462},{"x":3279,"y":558,"x2":3294,"y2":558},{"x":3279,"y":654,"x2":3294,"y2":654},{"x":3279,"y":750,"x2":3294,"y2":750},{"x":3279,"y":845,"x2":3294,"y2":845}]
},
"encoding":{"x":{"field":"x","type":"quantitative","scale":{"domain":[0,3521],"nice":false,"zero":false},"axis":null},"y":{"field":"y","type":"quantitative","stack":null,"scale":{"domain":[1563,0],"nice":false,"zero":false},"axis":null}},
"layer":[
{"data":{"name":"backbox"},"mark":{"type":"rule","stroke":"#d0d0d0","strokeWidth":2.5},"encoding":{"x2":{"field":"x2"},"y2":{"field":"y2"}}},
{"data":{"name":"grid"},"mark":{"type":"rule","stroke":"#222222","strokeWidth":2.5},"encoding":{"x2":{"field":"x2"},"y2":{"field":"y2"}}},
{"data":{"name":"bands"},"mark":{"type":"area","orient":"vertical"},"encoding":{"y2":{"datum":1400},"color":{"field":"l","type":"nominal","legend":null,"scale":{"domain":[1,2,3,4,5,6,7,8,9,10,11,12,13,14,15,16,17,18,19,20,21],"range":["#ff00ff","#9900dd","#0000ff","#0000e0","#0080ff","#0099d5","#00b4ff","#00ffff","#00dddd","#00ddb0","#00ff00","#00dd00","#00ff80","#ffff00","#e0e000","#e6b800","#ff8800","#ff8080","#ff6699","#ff0000","#dd0000"]}},"detail":{"field":"p"}}},
{"data":{"name":"under"},"mark":{"type":"area","orient":"vertical","color":"white"},"encoding":{"y2":{"datum":1400},"detail":{"field":"p"}}},
{"data":{"name":"floor"},"mark":{"type":"area","orient":"vertical","color":"#c0c0c0"},"encoding":{"y2":{"field":"y2"},"detail":{"field":"p"}}},
{"data":{"name":"ticks"},"mark":{"type":"rule","stroke":"#222222","strokeWidth":2.5},"encoding":{"x2":{"field":"x2"},"y2":{"field":"y2"}}},
{"data":{"name":"mesh"},"mark":{"type":"line","interpolate":"monotone","stroke":"#808080","strokeWidth":2,"opacity":0.9},"encoding":{"detail":{"field":"m"}}},
{"data":{"name":"dots"},"mark":{"type":"point","filled":true,"color":"black","opacity":1,"size":500}},
{"data":{"name":"front"},"mark":{"type":"rule","stroke":"#d4d4d4","strokeWidth":2.5},"encoding":{"x2":{"field":"x2"},"y2":{"field":"y2"}}},
{"data":{"values":[{"t":"80","x":213,"y":420},{"t":"60","x":213,"y":525},{"t":"40","x":213,"y":628},{"t":"20","x":213,"y":732},{"t":"0","x":213,"y":835},{"t":"80","x":2093,"y":437},{"t":"60","x":2093,"y":533},{"t":"40","x":2093,"y":630},{"t":"20","x":2093,"y":725},{"t":"0","x":2093,"y":822}]},"mark":{"type":"text","align":"right","baseline":"middle","font":"Liberation Sans","fontSize":64,"color":"#111111"},"encoding":{"text":{"field":"t"}}},
{"data":{"values":[{"t":"80","x":1473,"y":445},{"t":"60","x":1473,"y":550},{"t":"40","x":1473,"y":655},{"t":"20","x":1473,"y":760},{"t":"0","x":1473,"y":862},{"t":"80","x":3313,"y":462},{"t":"60","x":3313,"y":557},{"t":"40","x":3313,"y":655},{"t":"20","x":3313,"y":750},{"t":"0","x":3313,"y":845}]},"mark":{"type":"text","align":"left","baseline":"middle","font":"Liberation Sans","fontSize":64,"color":"#111111"},"encoding":{"text":{"field":"t"}}},
{"data":{"values":[{"t":"−0.5","x":334,"y":985},{"t":"0","x":507,"y":1065},{"t":"0.5","x":623,"y":1175},{"t":"1","x":796,"y":1260},{"t":"−0.5","x":2204,"y":960},{"t":"0","x":2374,"y":1028},{"t":"0.5","x":2488,"y":1133},{"t":"1","x":2652,"y":1209}]},"mark":{"type":"text","align":"center","baseline":"middle","angle":-37,"font":"Liberation Sans","fontSize":64,"color":"#111111"},"encoding":{"text":{"field":"t"}}},
{"data":{"values":[{"t":"0.5","x":1341,"y":1012},{"t":"0","x":1165,"y":1083},{"t":"−0.5","x":1038,"y":1195},{"t":"−1","x":869,"y":1272},{"t":"0.5","x":3180,"y":975},{"t":"0","x":3012,"y":1048},{"t":"−0.5","x":2894,"y":1151},{"t":"−1","x":2725,"y":1219}]},"mark":{"type":"text","align":"center","baseline":"middle","angle":37,"font":"Liberation Sans","fontSize":64,"color":"#111111"},"encoding":{"text":{"field":"t"}}},
{"data":{"values":[{"t":"y: yield (%)","x":84,"y":605},{"t":"y: yield (%)","x":1622,"y":642},{"t":"y: yield (%)","x":1962,"y":610},{"t":"y: yield (%)","x":3450,"y":637}]},"mark":{"type":"text","align":"center","baseline":"middle","angle":-90,"font":"Liberation Serif","fontSize":72,"color":"#111111"},"encoding":{"text":{"field":"t"}}},
{"data":{"values":[{"t":"x₁: temperature","x":381,"y":1167},{"t":"x₁: temperature","x":2237,"y":1120}]},"mark":{"type":"text","align":"center","baseline":"middle","angle":38,"font":"Liberation Serif","fontSize":70,"color":"#111111"},"encoding":{"text":{"field":"t"}}},
{"data":{"values":[{"t":"x₂: rotational speed","x":1316,"y":1162},{"t":"x₂: rotational speed","x":3144,"y":1125}]},"mark":{"type":"text","align":"center","baseline":"middle","angle":-38,"font":"Liberation Serif","fontSize":70,"color":"#111111"},"encoding":{"text":{"field":"t"}}},
{"data":{"values":[{"t":"(a)","x":769,"y":1478},{"t":"(b)","x":2684,"y":1478}]},"mark":{"type":"text","align":"center","baseline":"middle","font":"Liberation Serif","fontSize":92,"color":"#111111"},"encoding":{"text":{"field":"t"}}}
]}
